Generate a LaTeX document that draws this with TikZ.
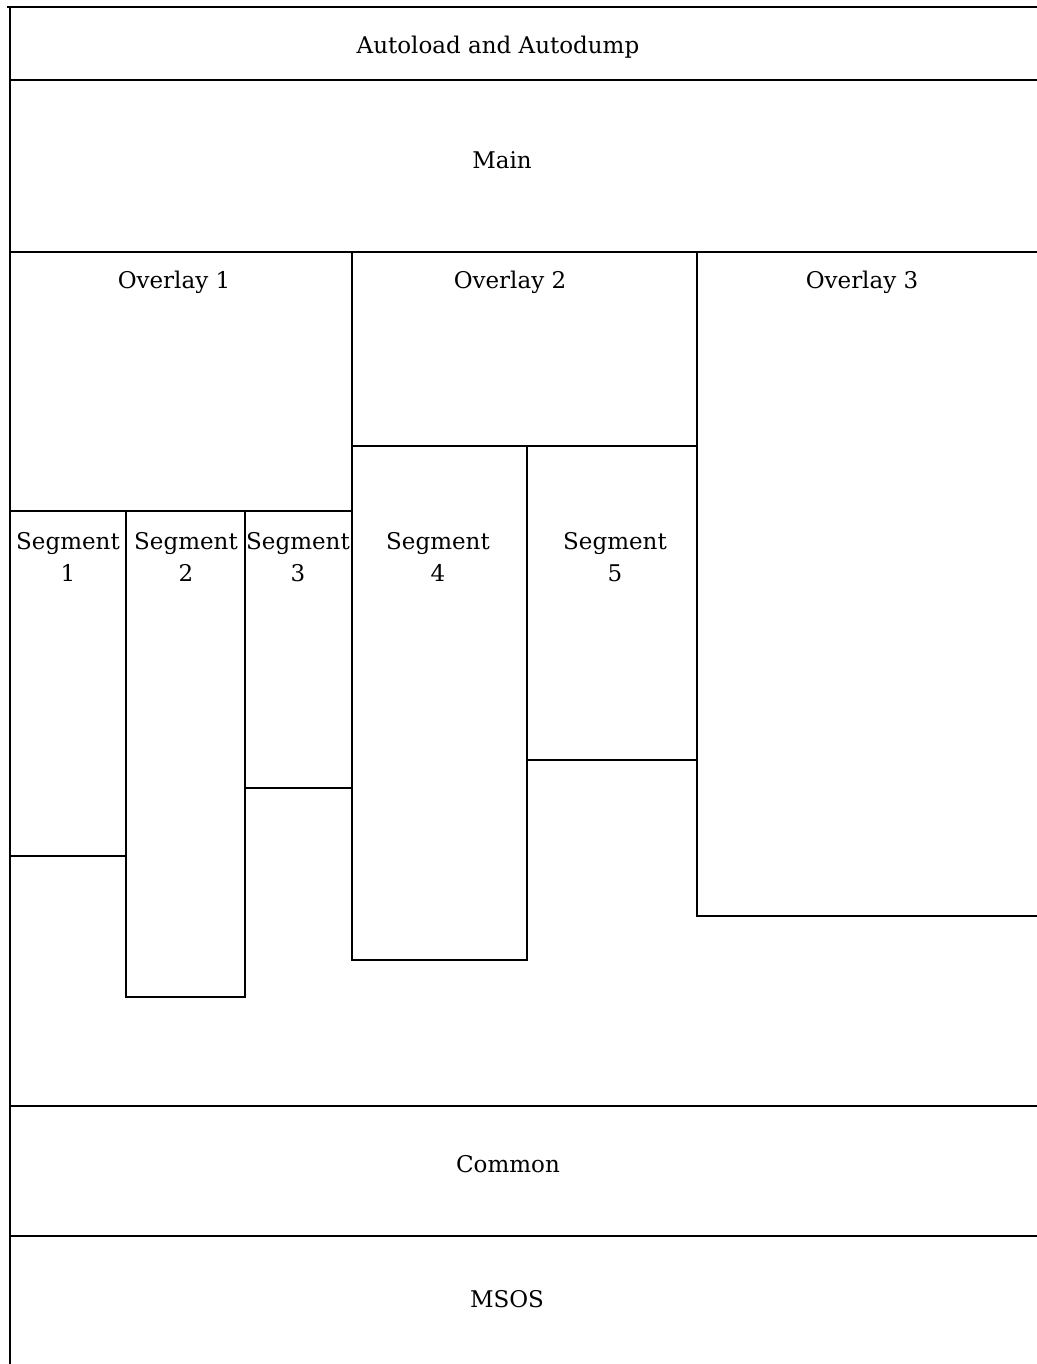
\documentclass[tikz,border=0pt]{standalone}
\usepackage{fontspec}
\setmainfont{DejaVu Serif}

\begin{document}
\begin{tikzpicture}
	[x=0.5pt,y=-0.5pt,line width=0.9pt,line cap=rect,
		area text/.style={font=\fontsize{11.5}{16}\selectfont,align=center,inner sep=0pt}]

	\useasboundingbox (0,0) rectangle (1037,1364);

	% frame: top and left edges, the bands run out to the right
	\draw (8,7) -- (1037,7);
	\draw (10,7) -- (10,1364);
	\foreach \y in {80,252,1106,1236}
		\draw (10,\y) -- (1037,\y);

	% overlays
	\draw (10,511) -- (352,511) -- (352,252);
	\draw (352,446) -- (697,446);
	\draw (697,252) -- (697,916) -- (1037,916);

	% segments
	\draw (10,856) -- (126,856);
	\draw (126,511) rectangle (245,997);
	\draw (245,788) -- (352,788);
	\draw (352,446) rectangle (527,960);
	\draw (527,760) -- (697,760);

	\node[area text] (autoload) at (498,47)  {Autoload and Autodump};
	\node[area text] (main)     at (502,160) {Main};
	\node[area text] (ov1)      at (174,282) {Overlay 1};
	\node[area text] (ov2)      at (510,282) {Overlay 2};
	\node[area text] (ov3)      at (862,282) {Overlay 3};
	\node[area text] (seg1)     at (68,557)  {Segment\\1};
	\node[area text] (seg2)     at (186,557) {Segment\\2};
	\node[area text] (seg3)     at (298,557) {Segment\\3};
	\node[area text] (seg4)     at (438,557) {Segment\\4};
	\node[area text] (seg5)     at (615,557) {Segment\\5};
	\node[area text] (common)   at (508,1164) {Common};
	\node[area text] (msos)     at (507,1299) {MSOS};

\end{tikzpicture}
\end{document}
